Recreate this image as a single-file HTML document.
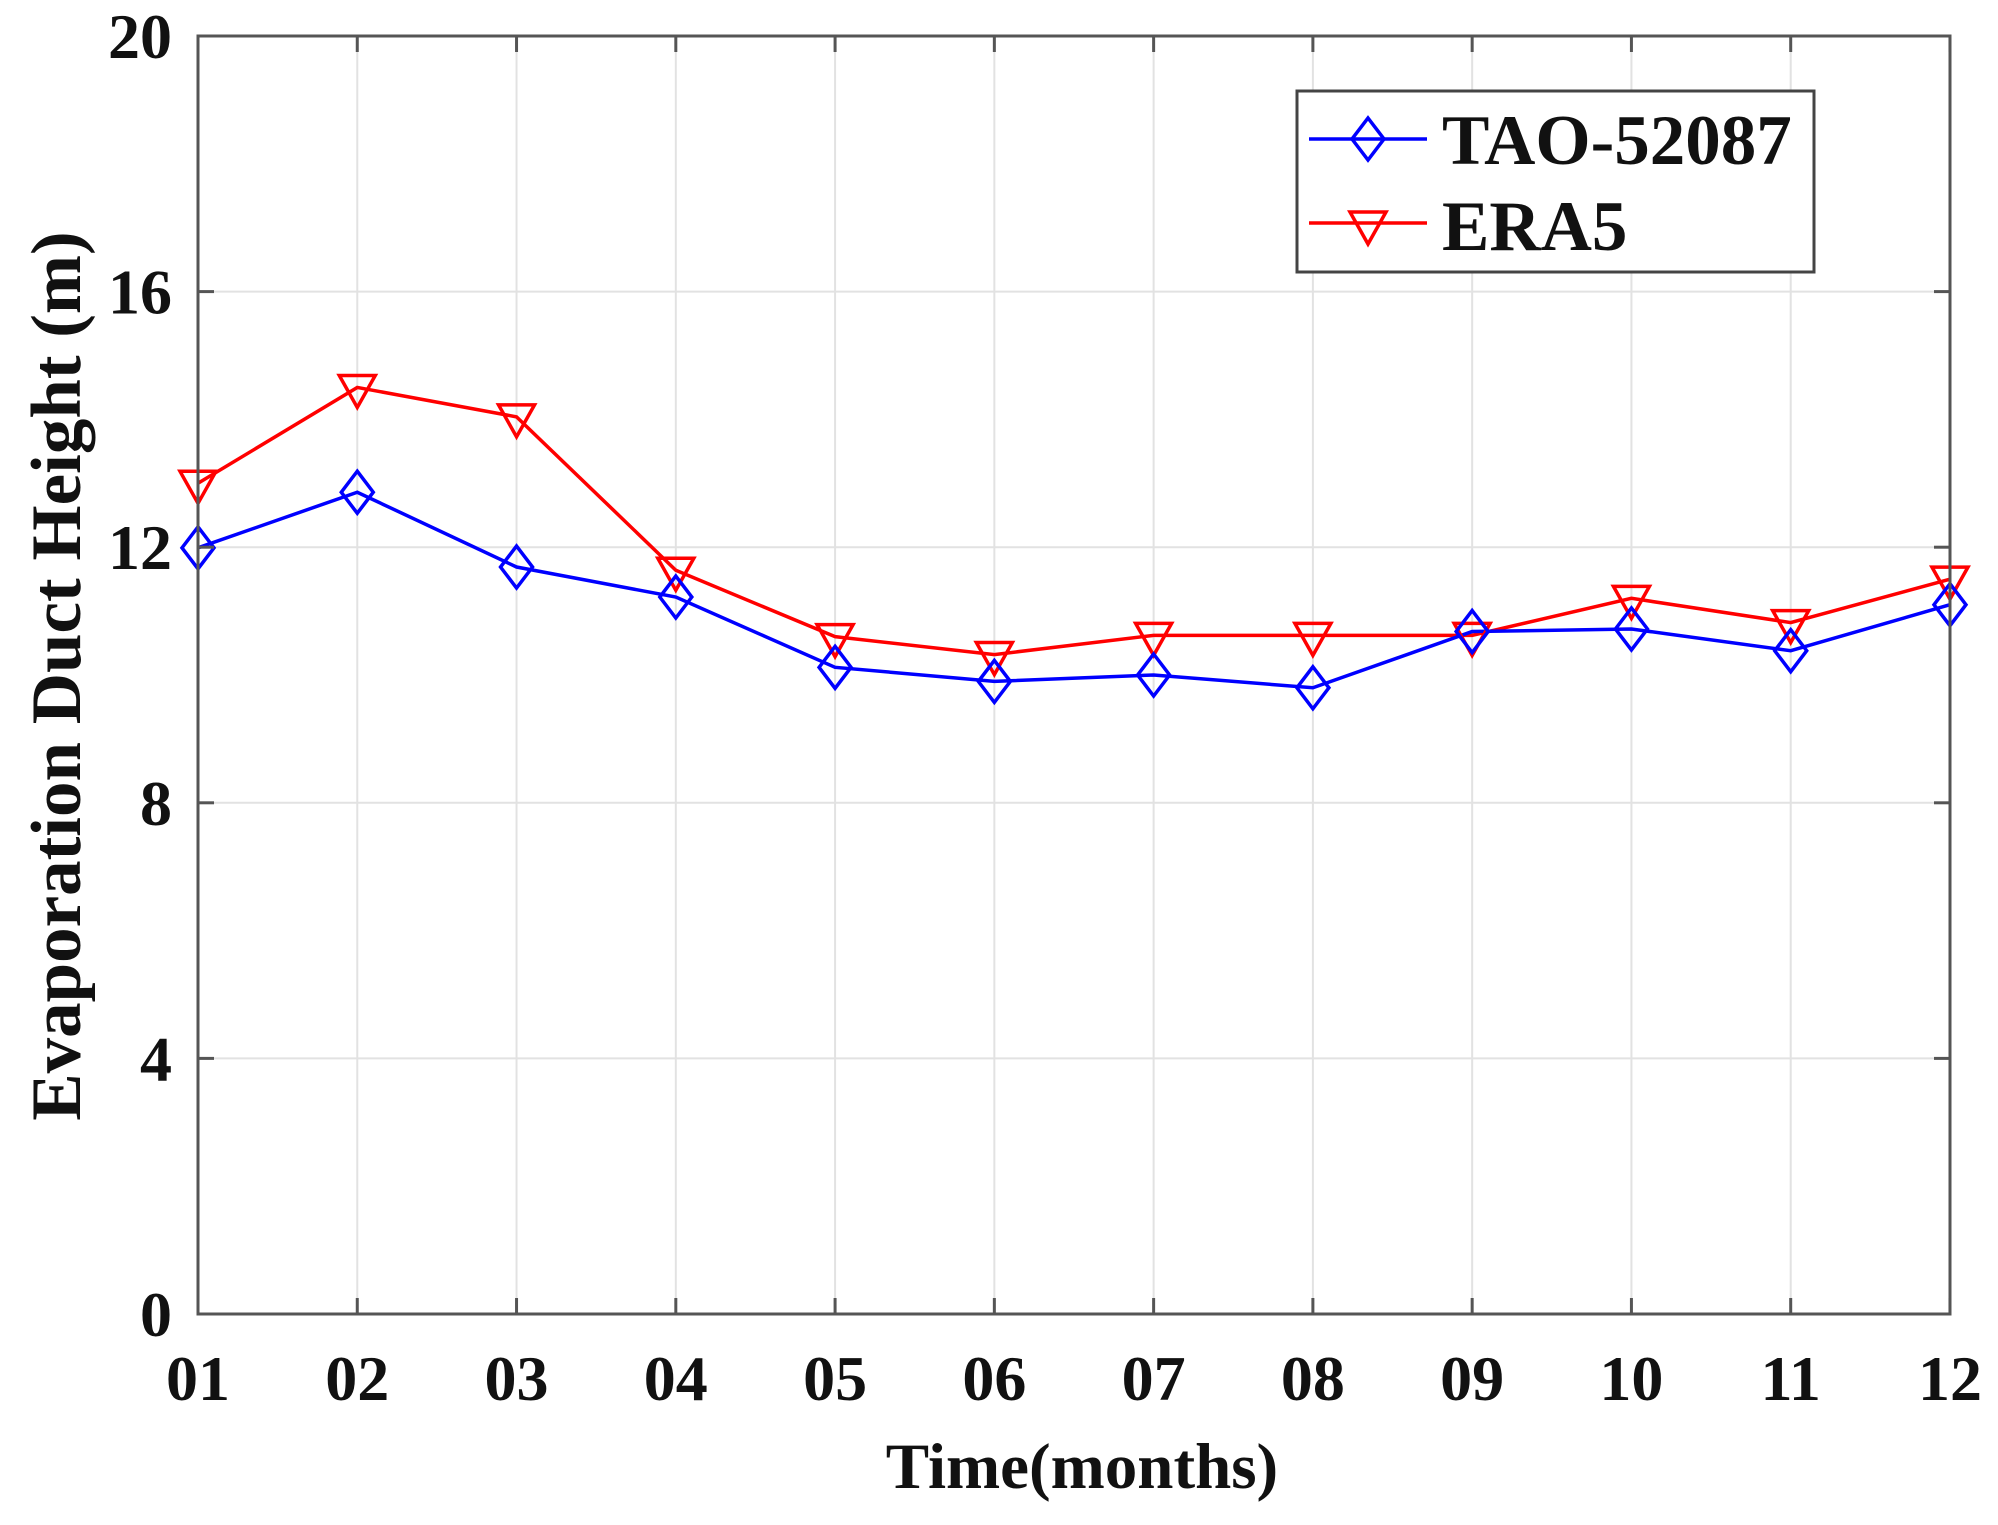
<!DOCTYPE html>
<html><head><meta charset="utf-8"><style>
html,body{margin:0;padding:0;background:#fff;}
svg{display:block;}
text{font-family:"Liberation Serif",serif;font-weight:bold;fill:#111;}
</style></head><body>
<svg id="s" width="1998" height="1525" viewBox="0 0 1998 1525" xmlns="http://www.w3.org/2000/svg">
<rect width="1998" height="1525" fill="#fff"/>
<g id="grid"></g>
<g id="series"></g>
<rect x="198" y="36" width="1752" height="1278" fill="none" stroke="#555" stroke-width="3"/>
<g id="ticks"></g>
<text x="1082" y="1488" font-size="65" text-anchor="middle">Time(months)</text>
<text transform="translate(80,676) rotate(-90)" font-size="71" text-anchor="middle">Evaporation Duct Height (m)</text>
<g>
<rect x="1297" y="91" width="517" height="181" fill="#fff" stroke="#444" stroke-width="3"/>
<line x1="1309" y1="139" x2="1427" y2="139" stroke="#00f" stroke-width="3.5"/>
<polygon points="1368,118 1384,139 1368,160 1352,139" fill="none" stroke="#00f" stroke-width="3.5"/>
<line x1="1309" y1="223" x2="1427" y2="223" stroke="#f00" stroke-width="3.5"/>
<polygon points="1350,212 1386,212 1368,244" fill="none" stroke="#f00" stroke-width="3.5"/>
<text x="1442" y="164" font-size="71">TAO-52087</text>
<text x="1442" y="250" font-size="71">ERA5</text>
</g>
</svg>
<script>
var NS="http://www.w3.org/2000/svg";
function X(i){return 198+i*159.27;}
function Y(v){return 1314-v*63.9;}
function el(p,t,a,txt){var e=document.createElementNS(NS,t);for(var k in a)e.setAttribute(k,a[k]);if(txt!==undefined)e.textContent=txt;document.getElementById(p).appendChild(e);return e;}
for(var i=1;i<11;i++){el("grid","line",{x1:X(i),y1:36,x2:X(i),y2:1314,stroke:"#e2e2e2","stroke-width":2});}
[4,8,12,16].forEach(function(v){el("grid","line",{x1:198,y1:Y(v),x2:1950,y2:Y(v),stroke:"#e2e2e2","stroke-width":2});});
for(var i=0;i<12;i++){
 el("ticks","line",{x1:X(i),y1:1314,x2:X(i),y2:1298,stroke:"#555","stroke-width":3});
 el("ticks","line",{x1:X(i),y1:36,x2:X(i),y2:52,stroke:"#555","stroke-width":3});
 var l=(i+1<10?"0":"")+(i+1);
 el("ticks","text",{x:X(i),y:1400,"font-size":64,"text-anchor":"middle"},l);
}
[0,4,8,12,16,20].forEach(function(v){
 el("ticks","line",{x1:198,y1:Y(v),x2:214,y2:Y(v),stroke:"#555","stroke-width":3});
 el("ticks","line",{x1:1950,y1:Y(v),x2:1934,y2:Y(v),stroke:"#555","stroke-width":3});
 el("ticks","text",{x:172,y:Y(v)+22,"font-size":64,"text-anchor":"end"},String(v));
});
var tao=[11.99,12.86,11.69,11.22,10.12,9.9,10.0,9.8,10.68,10.72,10.38,11.1];
var era=[13.0,14.5,14.04,11.64,10.6,10.32,10.62,10.62,10.62,11.2,10.82,11.5];
function poly(d,c){var p=d.map(function(v,i){return X(i)+","+Y(v);}).join(" ");el("series","polyline",{points:p,fill:"none",stroke:c,"stroke-width":3.5});}
poly(era,"#f00");poly(tao,"#00f");
era.forEach(function(v,i){var x=X(i),y=Y(v);el("series","polygon",{points:(x-18)+","+(y-12)+" "+(x+18)+","+(y-12)+" "+x+","+(y+20),fill:"none",stroke:"#f00","stroke-width":3.5});});
tao.forEach(function(v,i){var x=X(i),y=Y(v);el("series","polygon",{points:x+","+(y-21)+" "+(x+16)+","+y+" "+x+","+(y+21)+" "+(x-16)+","+y,fill:"none",stroke:"#00f","stroke-width":3.5});});
</script>
</body></html>
